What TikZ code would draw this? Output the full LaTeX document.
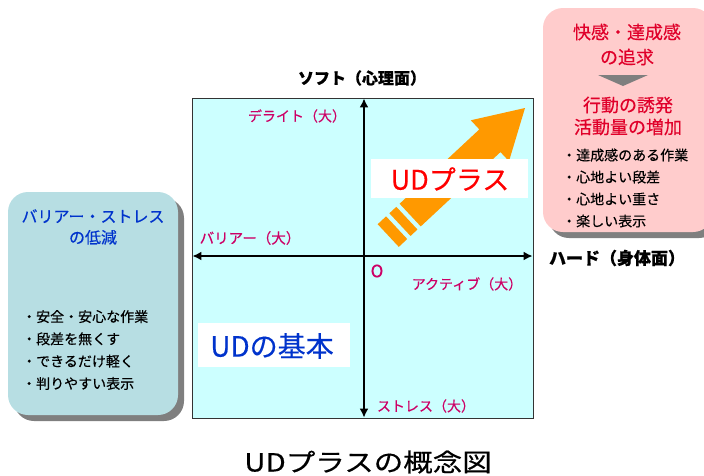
\documentclass[tikz,border=0pt]{standalone}
\usepackage{fontspec}
\setmainfont{Noto Sans CJK JP}[FakeBold=0.35]
\usetikzlibrary{arrows.meta,shadows}
\definecolor{mag}{HTML}{CC0066}
\definecolor{udblue}{HTML}{0033CC}
\definecolor{udred}{HTML}{FF0000}
\definecolor{boxred}{HTML}{E0002A}
\definecolor{planefill}{HTML}{CCFFFF}
\definecolor{leftfill}{HTML}{B7DEE3}
\definecolor{rightfill}{HTML}{FFCCCC}
\definecolor{shadowgray}{HTML}{7F7F7F}
\definecolor{udorange}{HTML}{FF9900}
\newcommand{\fs}[1]{\fontsize{#1}{#1}\selectfont}
\begin{document}
\begin{tikzpicture}[x=1pt,y=-1pt,
  lbl/.style={inner sep=0pt, text=mag, font=\fs{14}},
  axislbl/.style={inner sep=0pt, text=black, font=\bfseries\fs{16}},
  axis/.style={line width=1.8pt, {Latex[length=9pt,width=9pt]}-{Latex[length=9pt,width=9pt]}},
  sidebox/.style={rounded corners=20pt, inner sep=0pt,
     drop shadow={shadow xshift=6pt, shadow yshift=-6pt, fill=shadowgray, opacity=1}},
  bigbox/.style={fill=white, inner sep=0pt}]
\useasboundingbox (0,0) rectangle (704,475);
\clip (0,0) rectangle (704,475);
% side boxes
\node[sidebox, fill=leftfill, minimum width=170pt, minimum height=223pt] (lbox) at (93,303.5) {};
\node[sidebox, fill=rightfill, minimum width=170pt, minimum height=224pt] (rbox) at (628,120) {};
% left box texts
\node[inner sep=0pt, align=center, text=udblue, font=\fontsize{16}{21}\selectfont] (ltitle) at (93,227) {バリアー・ストレス\\の低減};
\node[inner sep=0pt, align=left, anchor=west, font=\fontsize{14}{22.3}\selectfont] (llist) at (22,350) {・安全・安心な作業\\・段差を無くす\\・できるだけ軽く\\・判りやすい表示};
% right box texts
\node[inner sep=0pt, align=center, text=boxred, font=\fontsize{18}{25}\selectfont] (rtitle) at (627,44.5) {快感・達成感\\の追求};
\fill[shadowgray] (598,75) -- (648,75) -- (623,86) -- cycle;
\node[inner sep=0pt, align=center, text=boxred, font=\fontsize{18}{22}\selectfont] (rtitle2) at (628,116) {行動の誘発\\活動量の増加};
\node[inner sep=0pt, align=left, anchor=west, font=\fontsize{14}{22}\selectfont] (rlist) at (562,188) {・達成感のある作業\\・心地よい段差\\・心地よい重さ\\・楽しい表示};
% plane
\node[draw=black!80, line width=0.8pt, fill=planefill, minimum width=341pt, minimum height=320pt, inner sep=0pt] (plane) at (362.5,258) {};
\coordinate (top) at (364,98.4);
\coordinate (bot) at (364,417.6);
\coordinate (lft) at (192.4,256);
\coordinate (rgt) at (532.6,256);
\draw[axis] (lft) -- (rgt);
\draw[axis] (top) -- (bot);
% labels
\node[axislbl] (soft) at (362,78) {ソフト（心理面）};
\node[axislbl, font=\bfseries\fs{17}] (hard) at (617,258) {ハード（身体面）};
\node[lbl] (delight) at (297,116) {デライト（大）};
\node[lbl, font=\fs{14.5}] (barrier) at (250,238) {バリアー（大）};
\node[lbl, font=\fs{17}] (origin) at (377,271) {O};
\node[lbl] (active) at (467,284) {アクティブ（大）};
\node[lbl] (stress) at (426,406) {ストレス（大）};
% orange arrow
\begin{scope}[shift={(525,108)}, rotate=43]
\fill[udorange] (0,0) -- (-48,-28) -- (-48,-15.5) -- (-157,-15.5) -- (-157,15.5) -- (-48,15.5) -- (-48,28) -- cycle;
\fill[udorange] (-161.5,-15.5) rectangle (-171,15.5);
\fill[udorange] (-175.5,-15.5) rectangle (-187,15.5);
\end{scope}
% big labels
\node[bigbox, minimum width=157pt, minimum height=39pt] (udplusbox) at (449.5,178.5) {};
\node[inner sep=0pt, text=udred, font=\fs{27}] (udplus) at (450,179) {UDプラス};
\node[bigbox, minimum width=152pt, minimum height=44pt] (udbasebox) at (274,345) {};
\node[inner sep=0pt, text=udblue, font=\fs{28}] (udbase) at (272,346) {UDの基本};
% caption
\node[inner sep=0pt, font=\fs{25}] (caption) at (368,462) {\scalebox{1.18}[1]{UDプラスの概念図}};
\end{tikzpicture}
\end{document}
